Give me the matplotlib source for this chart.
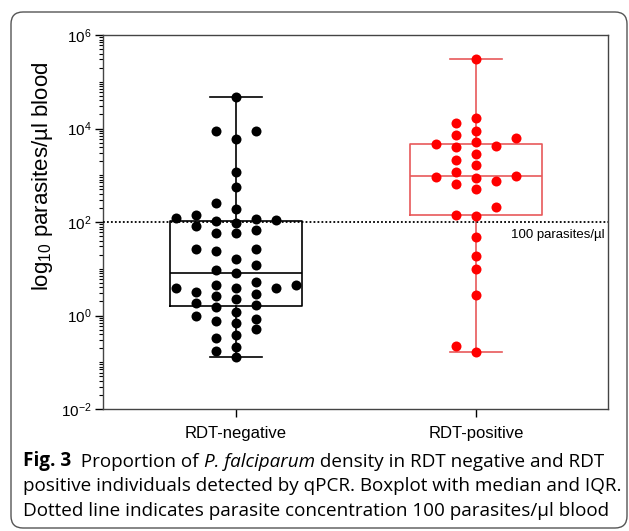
import matplotlib
matplotlib.use('Agg')
import matplotlib.pyplot as plt
import matplotlib.patches as mpatches
from matplotlib.ticker import FixedLocator, LogLocator, NullFormatter
import numpy as np

plt.rcParams['font.family'] = ['Liberation Sans', 'DejaVu Sans']
plt.rcParams['mathtext.fontset'] = 'custom'
plt.rcParams['mathtext.rm'] = 'Liberation Sans'
plt.rcParams['mathtext.it'] = 'Liberation Sans:italic'
plt.rcParams['mathtext.bf'] = 'Liberation Sans:bold'

# data (parasites/ul)
groups = ['RDT-negative', 'RDT-positive']
rdt_neg = [190, 103, 3.2, 118, 58, 3.9, 2.25, 1.17, 8980, 139, 58, 16.2, 9.4, 3.9,
           1.5, 0.77, 0.377, 0.129, 46400, 5860, 1175, 570, 97, 26, 8, 3.9, 1.88,
           0.855, 0.514, 0.215, 8980, 259, 124, 68.5, 23.5, 12, 4.4, 2.65, 0.69,
           0.325, 0.174, 82, 26, 5.1, 2.83, 1.7, 0.99, 110, 4.4]
rdt_pos = [6270, 964, 16500, 8850, 4590, 1680, 873, 508, 143, 307000, 13100, 5140,
           2900, 1160, 640, 213, 47.8, 19, 9.9, 2.75, 4230, 2150, 753, 132, 7380,
           4080, 931, 0.166, 0.223]

# box stats as drawn (median, IQR, min/max)
box_med = [8, 964]
box_q1 = [1.6, 139]
box_q3 = [104, 4660]
box_lo = [0.127, 0.166]
box_hi = [46400, 307000]

cutoff = 100

fig = plt.figure(figsize=(6.29, 5.31), dpi=100)
ax = fig.add_axes([103/629, 1-409/531, 505/629, 374/531])
ax.set_yscale('log')
ax.set_ylim(1e-2, 1e6)
ax.set_xlim(-0.554, 1.55)

cols = ['black', '#e8595a']
for i in range(2):
    st = dict(med=box_med[i], q1=box_q1[i], q3=box_q3[i],
              whislo=box_lo[i], whishi=box_hi[i], fliers=[])
    ax.bxp([st], positions=[i], widths=0.55, capwidths=0.217,
           showfliers=False,
           boxprops=dict(color=cols[i], lw=1.2),
           medianprops=dict(color=cols[i], lw=1.2),
           whiskerprops=dict(color=cols[i], lw=1.2),
           capprops=dict(color=cols[i], lw=1.2))


def swarm(vals, center, d=10.0, step=20.0):
    # simple beeswarm in pixel space, columns step px apart
    ypix = ax.transData.transform(np.column_stack([np.zeros(len(vals)), vals]))[:, 1]
    order = np.argsort(ypix)
    placed = []
    xs = np.zeros(len(vals))
    for k in order:
        y = ypix[k]
        done = False
        for n in range(0, 20):
            for off in ([0] if n == 0 else [-n, n]):
                hit = any(po == off and abs(py - y) < d for po, py in placed)
                if not hit:
                    xs[k] = off
                    placed.append((off, y))
                    done = True
                    break
            if done:
                break
    px_per_unit = ax.transData.transform((1, 1))[0] - ax.transData.transform((0, 1))[0]
    return center + xs * step / px_per_unit

fig.canvas.draw()
xn = swarm(rdt_neg, 0)
xp = swarm(rdt_pos, 1)
ax.plot(xn, rdt_neg, 'o', color='black', ms=7.2, mew=0, zorder=5)
ax.plot(xp, rdt_pos, 'o', color='#ff0000', ms=7.2, mew=0, zorder=5)

ax.axhline(cutoff, color='black', lw=1.3, ls=(0, (1, 1.2)), zorder=4)
ax.text(0.994, cutoff * 0.72, '100 parasites/\u00b5l', transform=ax.get_yaxis_transform(),
        ha='right', va='top', fontsize=9.5)

ax.yaxis.set_major_locator(FixedLocator([1e-2, 1, 1e2, 1e4, 1e6]))
ax.yaxis.set_minor_locator(LogLocator(base=10, subs=np.arange(1, 10), numticks=20))
ax.yaxis.set_minor_formatter(NullFormatter())
ax.set_yticklabels(['$\\mathregular{10^{-2}}$', '$\\mathregular{10^{0}}$',
                    '$\\mathregular{10^{2}}$', '$\\mathregular{10^{4}}$',
                    '$\\mathregular{10^{6}}$'])
ax.tick_params(axis='y', which='major', length=6, width=1, labelsize=11, pad=2)
ax.tick_params(axis='y', which='minor', length=3, width=0.8)
ax.set_xticks([0, 1])
ax.set_xticklabels(groups)
ax.tick_params(axis='x', length=6, width=1, labelsize=12, pad=6)
for s in ax.spines.values():
    s.set_color('#444444')
    s.set_linewidth(1)

fig.text(43/629, 1-176/531, '$\\mathregular{log_{10}}$ parasites/\u00b5l blood',
         rotation=90, ha='center', va='center', fontsize=16)

# frame around figure + caption
frame = mpatches.FancyBboxPatch((11, 3), 616, 516, boxstyle='round,pad=0,rounding_size=12',
                                transform=None, fill=False, ec='#555555', lw=1)
fig.patches.append(frame)

cap_font = 'Open Sans'
cs = 13.6
first = fig.text(23/629, 1 - 466/531, 'Fig. 3', fontsize=cs, family=cap_font,
                 weight='bold', va='baseline')
p1 = plt.annotate('  Proportion of ', xy=(1, 0), xycoords=first, fontsize=cs,
                  family=cap_font, va='bottom', ha='left', annotation_clip=False)
p2 = plt.annotate('P. falciparum', xy=(1, 0), xycoords=p1, fontsize=cs,
                  family=cap_font, style='italic', va='bottom', ha='left', annotation_clip=False)
p3 = plt.annotate(' density in RDT negative and RDT', xy=(1, 0), xycoords=p2, fontsize=cs,
                  family=cap_font, va='bottom', ha='left', annotation_clip=False)
fig.text(23/629, 1 - 491/531, 'positive individuals detected by qPCR. Boxplot with median and IQR.',
         fontsize=cs, family=cap_font, va='baseline')
fig.text(23/629, 1 - 516/531, 'Dotted line indicates parasite concentration 100 parasites/\u00b5l blood',
         fontsize=cs, family=cap_font, va='baseline')

fig.savefig('out.png', dpi=100)
